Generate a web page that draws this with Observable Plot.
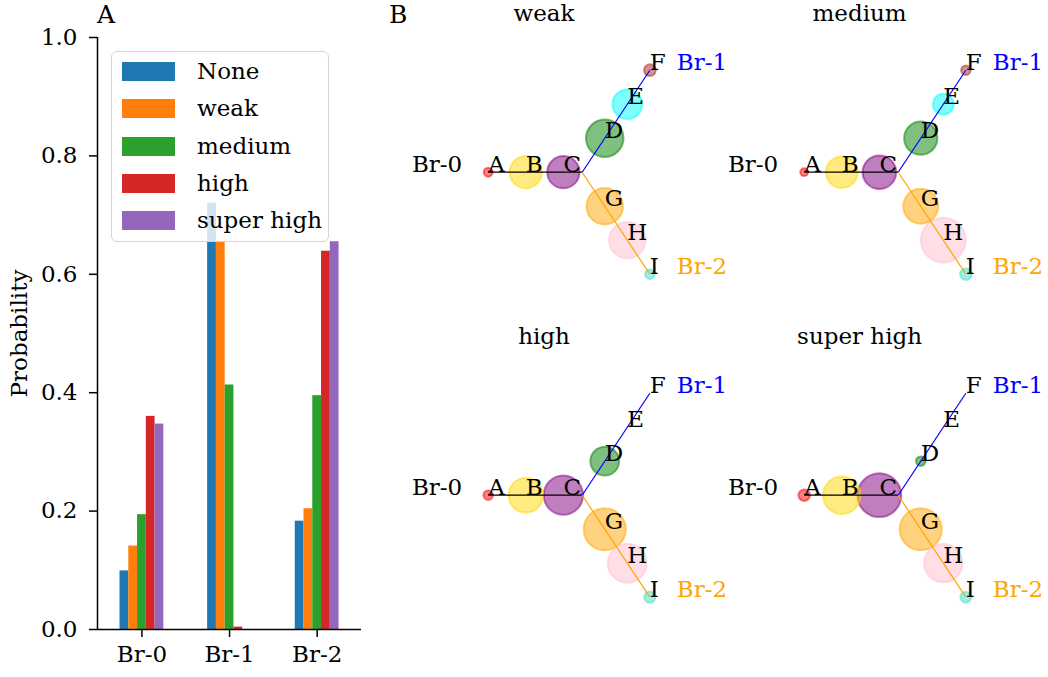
<!DOCTYPE html>
<html>
<head>
<meta charset="utf-8">
<script src="https://cdn.jsdelivr.net/npm/d3@7"></script>
<script src="https://cdn.jsdelivr.net/npm/@observablehq/plot@0.6"></script>
<style>
  html, body { margin: 0; padding: 0; background: #fff; }
  #root { position: relative; width: 1048px; height: 677px; font-family: "DejaVu Serif", serif; color: #000; overflow: hidden; }
  .abs { position: absolute; }
  .lbl { font-size: 23px; line-height: 25px; white-space: nowrap; }
  .panel { font-size: 25px; line-height: normal; }
  svg { overflow: visible; }
  #legend { position: absolute; left: 111px; top: 51px; width: 216px; height: 189px; border: 1.5px solid #d4d4d4; border-radius: 6px; background: rgba(255,255,255,0.8); }
  .row { position: absolute; left: 0; height: 37px; display: flex; align-items: center; font-size: 23px; line-height: 25px; white-space: nowrap; }
  .sw { width: 53px; height: 19px; margin-left: 10px; margin-right: 22px; }
</style>
</head>
<body>
<div id="root"></div>
<script>
// ---------- data: panel A ----------
const branches = ["Br-0", "Br-1", "Br-2"];
const conditions = ["None", "weak", "medium", "high", "super high"];
const conditionColors = ["#1f77b4", "#ff7f0e", "#2ca02c", "#d62728", "#9467bd"];
const probNone      = [0.099, 0.720, 0.183];
const probWeak      = [0.141, 0.655, 0.204];
const probMedium    = [0.194, 0.413, 0.395];
const probHigh      = [0.360, 0.004, 0.639];
const probSuperHigh = [0.347, 0.000, 0.655];
const yTicks = [0, 0.2, 0.4, 0.6, 0.8, 1.0];

// ---------- data: panel B ----------
const nodeNames  = ["A", "B", "C", "D", "E", "F", "G", "H", "I"];
const nodeX      = [-1, -0.6, -0.2, 0.24, 0.48, 0.72, 0.24, 0.48, 0.72];
const nodeY      = [0, 0, 0, 0.362, 0.723, 1.085, -0.362, -0.723, -1.085];
const nodeColors = ["red", "gold", "purple", "green", "cyan", "brown", "orange", "pink", "turquoise"];
const junctionX = 0, junctionY = 0;
const panelConditions = ["weak", "medium", "high", "super high"];
const occWeak      = [0.035, 0.45, 0.45, 0.61, 0.38, 0.06, 0.58, 0.58, 0.04];
const occMedium    = [0.026, 0.435, 0.49, 0.48, 0.19, 0.04, 0.53, 0.87, 0.058];
const occHigh      = [0.04, 0.52, 0.67, 0.36, 0, 0, 0.77, 0.66, 0.054];
const occSuperHigh = [0.058, 0.61, 0.83, 0.04, 0, 0, 0.77, 0.64, 0.052];
const branchEnds   = ["A", "F", "I"];
const branchColors = ["black", "blue", "orange"];

// ---------- build ----------
const FONT = "DejaVu Serif, serif";
const FS = 23;
const root = document.getElementById("root");
const probs = [probNone, probWeak, probMedium, probHigh, probSuperHigh];
const barRows = [];
conditions.forEach((c, ci) => branches.forEach((b, bi) => barRows.push({branch: b, bi, condition: c, ci, p: probs[ci][bi]})));
const barW = 0.1;
const xDom = [-0.507, 2.506];

const plotA = Plot.plot({
  width: 370, height: 677,
  marginLeft: 97, marginRight: 9, marginTop: 37, marginBottom: 48,
  style: {fontFamily: FONT, fontSize: FS + "px", background: "transparent", overflow: "visible"},
  x: {domain: xDom},
  y: {domain: [0, 1]},
  color: {domain: conditions, range: conditionColors},
  marks: [
    Plot.rectY(barRows, {
      x1: d => d.bi + (d.ci - 2) * barW - barW / 2,
      x2: d => d.bi + (d.ci - 2) * barW + barW / 2,
      y1: 0, y2: "p", fill: "condition"
    }),
    Plot.axisY({ticks: yTicks, tickFormat: d3.format(".1f"), tickSize: 8, tickPadding: 12, strokeWidth: 1.5,
      fontSize: FS, label: "Probability", labelAnchor: "center", labelOffset: 87, labelArrow: "none"}),
    Plot.axisX({ticks: [0, 1, 2], tickFormat: i => branches[i], tickSize: 8, tickPadding: 8, strokeWidth: 1.5, fontSize: FS, label: null}),
    Plot.ruleX([xDom[0]], {y1: 0, y2: 1, strokeWidth: 1.5}),
    Plot.ruleY([0], {strokeWidth: 1.5})
  ]
});
plotA.style.position = "absolute"; plotA.style.left = "0px"; plotA.style.top = "0px";
root.appendChild(plotA);

// legend
const legend = document.createElement("div");
legend.id = "legend";
conditions.forEach((c, i) => {
  const row = document.createElement("div");
  row.className = "row";
  row.style.top = (1 + 37.3 * i) + "px";
  row.innerHTML = `<div class="sw" style="background:${conditionColors[i]}"></div><span>${c}</span>`;
  legend.appendChild(row);
});
root.appendChild(legend);

function addLabel(text, left, top) {
  const d = document.createElement("div");
  d.className = "abs lbl panel";
  d.style.left = left + "px"; d.style.top = top + "px";
  d.textContent = text;
  root.appendChild(d);
  return d;
}
addLabel("A", 97, 0);
addLabel("B", 389, 0);

// panel B
const occs = [occWeak, occMedium, occHigh, occSuperHigh];
const cellW = 316, cellH = 322;
const cellLeft = [400, 715.6], cellTop = [0, 322.6];
panelConditions.forEach((cond, k) => {
  const nodes = nodeNames.map((n, i) => ({name: n, x: nodeX[i], y: nodeY[i], color: nodeColors[i], occ: occs[k][i]}));
  const byName = Object.fromEntries(nodes.map(d => [d.name, d]));
  const lines = branches.map((b, i) => ({branch: b, end: byName[branchEnds[i]], color: branchColors[i]}));
  const p = Plot.plot({
    width: cellW, height: cellH, margin: 0,
    style: {fontFamily: FONT, fontSize: FS + "px", background: "transparent", overflow: "visible"},
    x: {domain: [-1.933, 1.429], axis: null},
    y: {domain: [-1.599, 1.827], axis: null},
    r: {type: "sqrt", domain: [0, 1], range: [0, 24]},
    color: {type: "identity"},
    marks: [
      Plot.dot(nodes, {x: "x", y: "y", r: "occ", fill: "color", stroke: "color", fillOpacity: 0.5, strokeOpacity: 0.5, strokeWidth: 2}),
      Plot.link(lines, {x1: () => junctionX, y1: () => junctionY, x2: d => d.end.x, y2: d => d.end.y, stroke: "color", strokeWidth: 1.2}),
      Plot.text(nodes, {x: "x", y: "y", text: "name", textAnchor: "start", lineAnchor: "bottom", dx: 0, fontSize: FS, fill: "black"}),
      Plot.text(lines.filter(d => d.branch === "Br-0"), {x: d => d.end.x, y: d => d.end.y, text: "branch", textAnchor: "end", lineAnchor: "bottom", dx: -26, fontSize: FS, fill: "color"}),
      Plot.text(lines.filter(d => d.branch !== "Br-0"), {x: d => d.end.x, y: d => d.end.y, text: "branch", textAnchor: "start", lineAnchor: "bottom", dx: 27, fontSize: FS, fill: "color"})
    ]
  });
  const col = k % 2, row = Math.floor(k / 2);
  const wrap = document.createElement("div");
  wrap.className = "abs";
  wrap.style.left = cellLeft[col] + "px"; wrap.style.top = cellTop[row] + "px";
  wrap.style.width = cellW + "px"; wrap.style.height = cellH + "px";
  wrap.appendChild(p);
  const t = document.createElement("div");
  t.className = "abs lbl";
  t.style.left = "-6px"; t.style.top = "1px"; t.style.width = "300px"; t.style.textAlign = "center";
  t.textContent = cond;
  wrap.appendChild(t);
  root.appendChild(wrap);
});
</script>
</body>
</html>
